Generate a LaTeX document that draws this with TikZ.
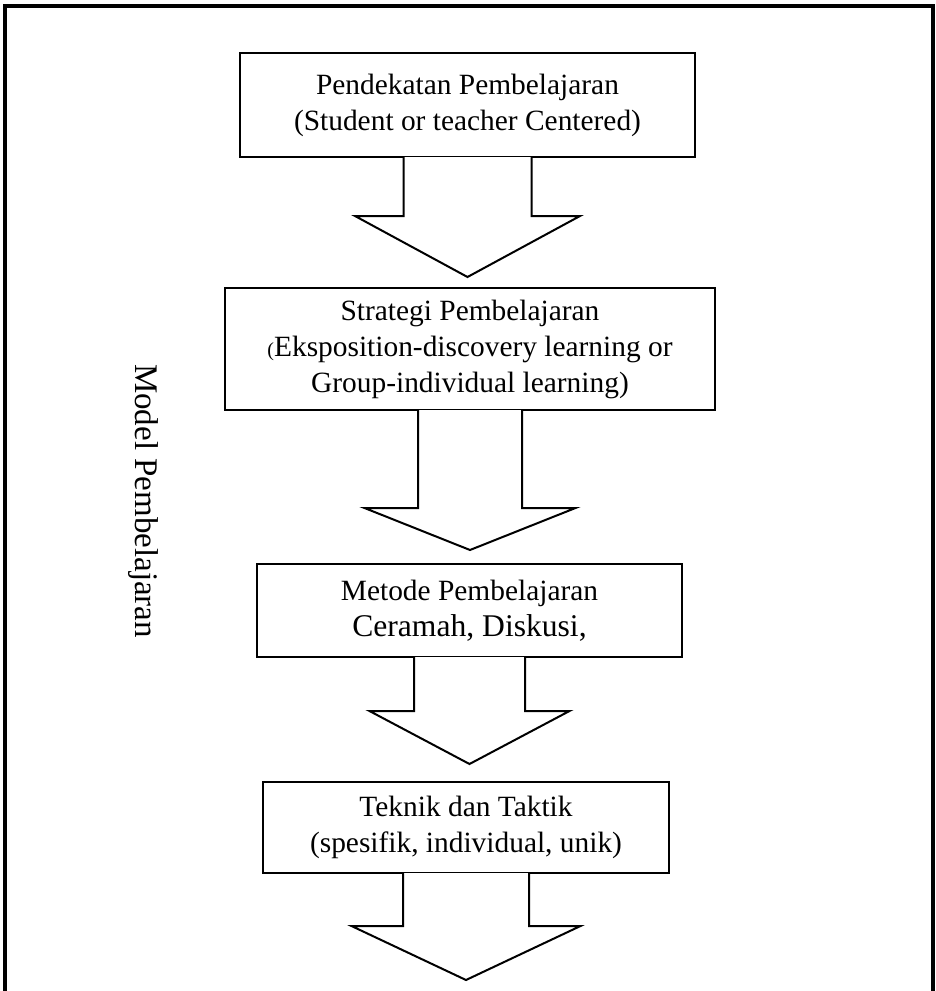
\documentclass[tikz,border=0pt]{standalone}
\usepackage{fontspec}
\setmainfont{Liberation Serif}
\usetikzlibrary{calc}
\tikzset{
  box/.style={draw,line width=1pt,align=center,inner sep=0pt},
  blockarrow/.style={draw,line width=1pt,line join=miter},
  frame/.style={draw,line width=2pt,line join=miter}
}

\begin{document}
\begin{tikzpicture}[x=0.5pt,y=-0.5pt,font=\fontsize{14.7}{18}\selectfont]
  \useasboundingbox (0,0) rectangle (936,991);
  % outer frame, open at the bottom edge
  \draw[frame] (5,991) -- (5,5.5) -- (933,5.5) -- (933,991);
  \coordinate (frameend) at (0,991);

  % the four levels
  \node[box,minimum width=227.5pt,minimum height=52pt] (pendekatan) at (467.5,105)
    {Pendekatan Pembelajaran\\(Student or teacher Centered)};
  \node[box,minimum width=245pt,minimum height=61pt] (strategi) at (470,349)
    {Strategi Pembelajaran\\{\fontsize{10}{12}\selectfont(}Eksposition-discovery learning or\\Group-individual learning)};
  \node[box,minimum width=212.5pt,minimum height=46.5pt] (metode) at (469.5,610.5)
    {Metode Pembelajaran\\{\fontsize{15.8}{18}\selectfont Ceramah, Diskusi,}};
  \node[box,minimum width=203pt,minimum height=45.5pt] (teknik) at (466,827.5)
    {Teknik dan Taktik\\(spesifik, individual, unik)};

  \node[rotate=-90,font=\fontsize{16.5}{20}\selectfont] (model) at (143,501) {Model Pembelajaran};

  % block arrows: source/target/shaft/head/neck/gap
  \foreach \src/\dst/\shaft/\head/\neck/\gap in {
    pendekatan/strategi.north/64/112.5/58/10,
    strategi/metode.north/52/105.5/97/13,
    metode/teknik.north/55.5/100/53/17,
    teknik/frameend/63/114.5/52/11
  } {
    \fill[white] ($(\src.south)+(-\shaft,-1.5)$) rectangle ($(\src.south)+(\shaft,\neck)$);
    \draw[blockarrow] ($(\src.south)+(-\shaft,-1)$) -- ($(\src.south)+(-\shaft,\neck)$)
      -- ($(\src.south)+(-\head,\neck)$) -- ($(\src.south |- \dst)+(0,-\gap)$)
      -- ($(\src.south)+(\head,\neck)$) -- ($(\src.south)+(\shaft,\neck)$)
      -- ($(\src.south)+(\shaft,-1)$);
  }
\end{tikzpicture}
\end{document}
